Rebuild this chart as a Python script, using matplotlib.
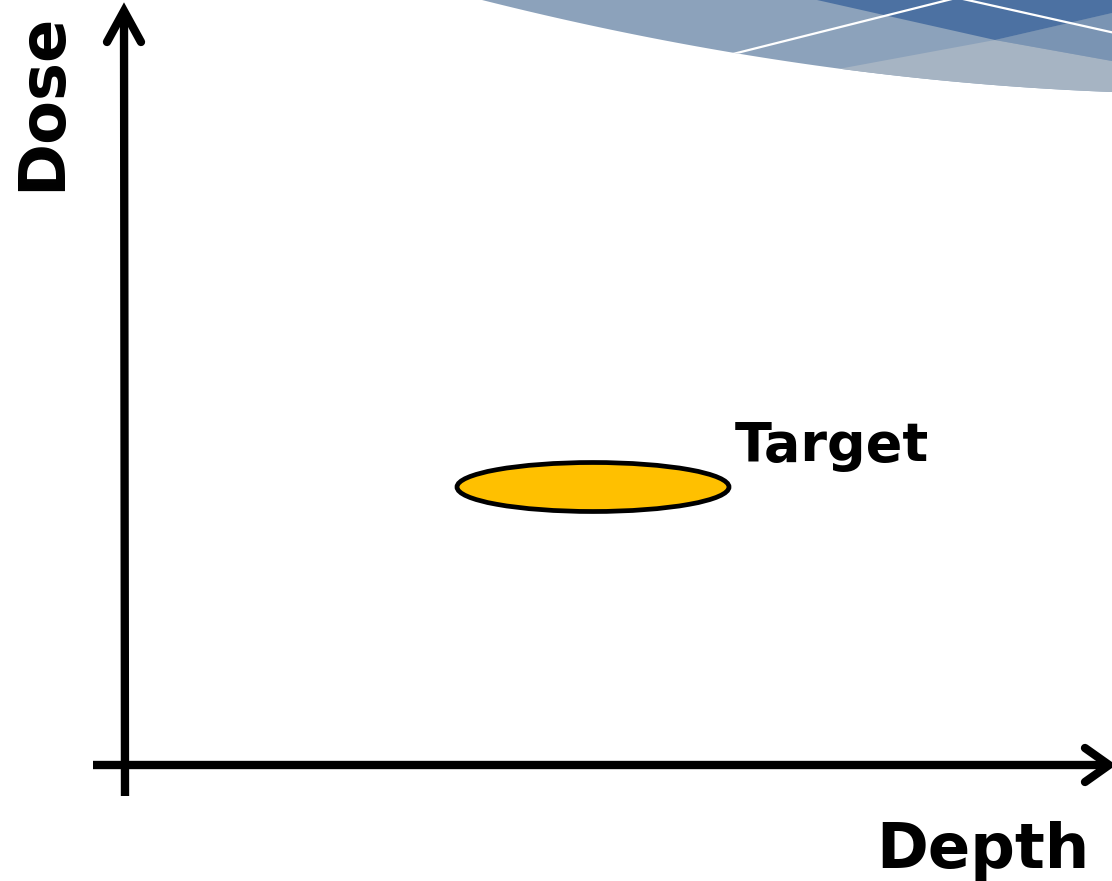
import numpy as np
import matplotlib
matplotlib.use("Agg")
import matplotlib.pyplot as plt
from matplotlib.patches import Ellipse, Polygon

# ---- content ----
x_label = "Depth"
y_label = "Dose"
target_label = "Target"
# target region (pixel-space diagram coordinates)
target_center = (593, 487)
target_size = (272, 49)
target_color = "#FFC000"

W, H = 1112, 881
fig = plt.figure(figsize=(W / 100, H / 100), dpi=100)
ax = fig.add_axes([0, 0, 1, 1])
ax.set_xlim(0, W)
ax.set_ylim(H, 0)
ax.axis("off")

# ---- decorative banner, top-right ----
t = np.linspace(0, 1, 60)
P0, P1, P2 = np.array([482, 0]), np.array([800, 80]), np.array([1112, 92])
curve = ((1 - t) ** 2)[:, None] * P0 + (2 * (1 - t) * t)[:, None] * P1 + (t ** 2)[:, None] * P2
base_pts = np.vstack([curve, [[1112, -5], [482, -5]]])
base = Polygon(base_pts, closed=True, facecolor="#8CA2BB", edgecolor="none", zorder=1)
ax.add_patch(base)

light = Polygon([[700, 94.6], [995, 40], [1112, 61], [1112, 130], [700, 130]],
                closed=True, facecolor="#A6B4C3", edgecolor="none", zorder=2)
ax.add_patch(light)
light.set_clip_path(base)

medium = Polygon([[995, 40], [1112, 13], [1112, 61]], closed=True,
                 facecolor="#7A94B3", edgecolor="none", zorder=2)
ax.add_patch(medium)
medium.set_clip_path(base)

dark = Polygon([[817, -5], [817, 0], [995, 40], [1112, 13], [1112, -5]], closed=True,
               facecolor="#4C71A2", edgecolor="none", zorder=3)
ax.add_patch(dark)
dark.set_clip_path(base)

for (xa, ya), (xb, yb) in [((725, 56), (952, -1)), ((963, -1), (1115, 33))]:
    ln, = ax.plot([xa, xb], [ya, yb], color="white", lw=1.6, zorder=4)
    ln.set_clip_path(base)

# ---- axes arrows ----
lw = 6
ax.plot([125, 124], [796, 14], color="black", lw=lw, solid_capstyle="butt", zorder=5)
ax.plot([107, 124, 141], [42, 11, 42], color="black", lw=lw,
        solid_capstyle="round", solid_joinstyle="miter", zorder=5)
ax.plot([93, 1106], [765, 765], color="black", lw=lw, solid_capstyle="butt", zorder=5)
ax.plot([1085, 1109, 1085], [748, 765, 782], color="black", lw=lw,
        solid_capstyle="round", solid_joinstyle="miter", zorder=5)

# ---- target ----
ell = Ellipse(target_center, target_size[0], target_size[1], facecolor=target_color,
              edgecolor="black", lw=3.4, zorder=6)
ax.add_patch(ell)

# ---- labels ----
ax.text(735, 461, target_label, fontsize=39, fontweight="bold", family="DejaVu Sans",
        ha="left", va="baseline", zorder=7)
ax.text(1090, 868, x_label, fontsize=45, fontweight="bold", family="DejaVu Sans",
        ha="right", va="baseline", zorder=7)
ax.text(42, 102, y_label, fontsize=46, fontweight="bold", family="DejaVu Sans",
        ha="center", va="center", rotation=90, zorder=7)

fig.savefig("out.png", dpi=100)
